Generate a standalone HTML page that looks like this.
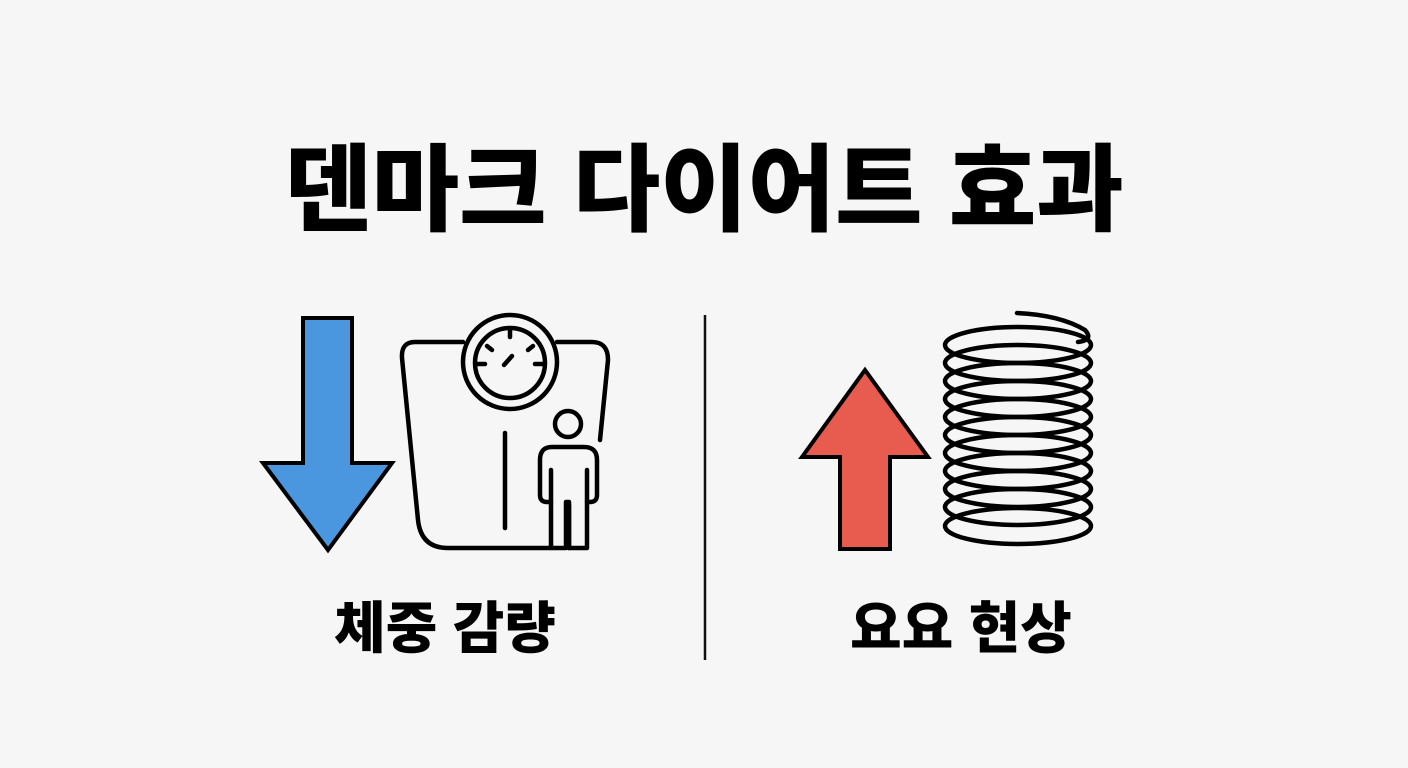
<!DOCTYPE html>
<html><head><meta charset="utf-8"><style>
html,body{margin:0;padding:0;background:#f6f6f6;}
svg{display:block;}
text{font-family:"Liberation Sans","Noto Sans CJK KR","NanumGothic",sans-serif;font-weight:900;fill:#000;}
</style></head><body>
<svg width="1408" height="768" viewBox="0 0 1408 768" xmlns="http://www.w3.org/2000/svg">
<rect width="1408" height="768" fill="#f6f6f6"/>
<text x="704" y="223" font-size="95" text-anchor="middle">덴마크 다이어트 효과</text>
<text x="445" y="648" font-size="56" text-anchor="middle">체중 감량</text>
<text x="961" y="648" font-size="56" text-anchor="middle">요요 현상</text>
<line x1="705" y1="315" x2="705" y2="660" stroke="#111" stroke-width="2.5"/>
<polygon points="303,318 352,318 352,463 392,463 328,550 263,463 303,463" fill="#4a97e0" stroke="#000" stroke-width="4" stroke-linejoin="miter"/>
<g fill="none" stroke="#000" stroke-width="4.5" stroke-linecap="round" stroke-linejoin="round">
<path d="M463,342 L415,342 Q401,342 402,358 L418,520 Q421,548 448,548 L550,548"/>
<path d="M557,342 L592,342 Q608,342 608,360 L600,440"/>
<circle cx="510" cy="362" r="47"/>
<circle cx="510" cy="363" r="35"/>
<line x1="510" y1="330" x2="510" y2="337"/>
<line x1="487" y1="346" x2="492" y2="350"/>
<line x1="533" y1="346" x2="528" y2="350"/>
<line x1="478" y1="364" x2="485" y2="364"/>
<line x1="535" y1="364" x2="542" y2="364"/>
<line x1="504" y1="365" x2="512" y2="356"/>
<line x1="505" y1="433" x2="505" y2="528"/>
<circle cx="568" cy="424" r="13"/>
<path d="M552,447 L584,447 Q597,447 597,460 L597,495 Q597,502 590,502 L587,502 L587,548 L569,548 L569,502 L566,502 L566,548 L551,548 L551,502 L547,502 Q540,502 540,495 L540,460 Q540,447 552,447 Z"/>
<line x1="551" y1="470" x2="551" y2="502"/>
<line x1="587" y1="470" x2="587" y2="502"/>
<line x1="569" y1="505" x2="569" y2="548"/>
</g>
<polygon points="865,370 928,457 890,457 890,549 840,549 840,457 802,457" fill="#e85c50" stroke="#000" stroke-width="4" stroke-linejoin="miter"/>
<g fill="none" stroke="#000" stroke-width="4.5">
<ellipse cx="1018" cy="345" rx="73" ry="18"/>
<ellipse cx="1018" cy="363" rx="73" ry="18"/>
<ellipse cx="1018" cy="381" rx="73" ry="18"/>
<ellipse cx="1018" cy="399" rx="73" ry="18"/>
<ellipse cx="1018" cy="417" rx="73" ry="18"/>
<ellipse cx="1018" cy="435" rx="73" ry="18"/>
<ellipse cx="1018" cy="453" rx="73" ry="18"/>
<ellipse cx="1018" cy="471" rx="73" ry="18"/>
<ellipse cx="1018" cy="489" rx="73" ry="18"/>
<ellipse cx="1018" cy="507" rx="73" ry="18"/>
<ellipse cx="1018" cy="526" rx="73" ry="18"/>
<path d="M1017,313 Q1060,315 1085,330 Q1094,340 1078,342" stroke-linecap="round"/>
</g>
</svg>
</body></html>
